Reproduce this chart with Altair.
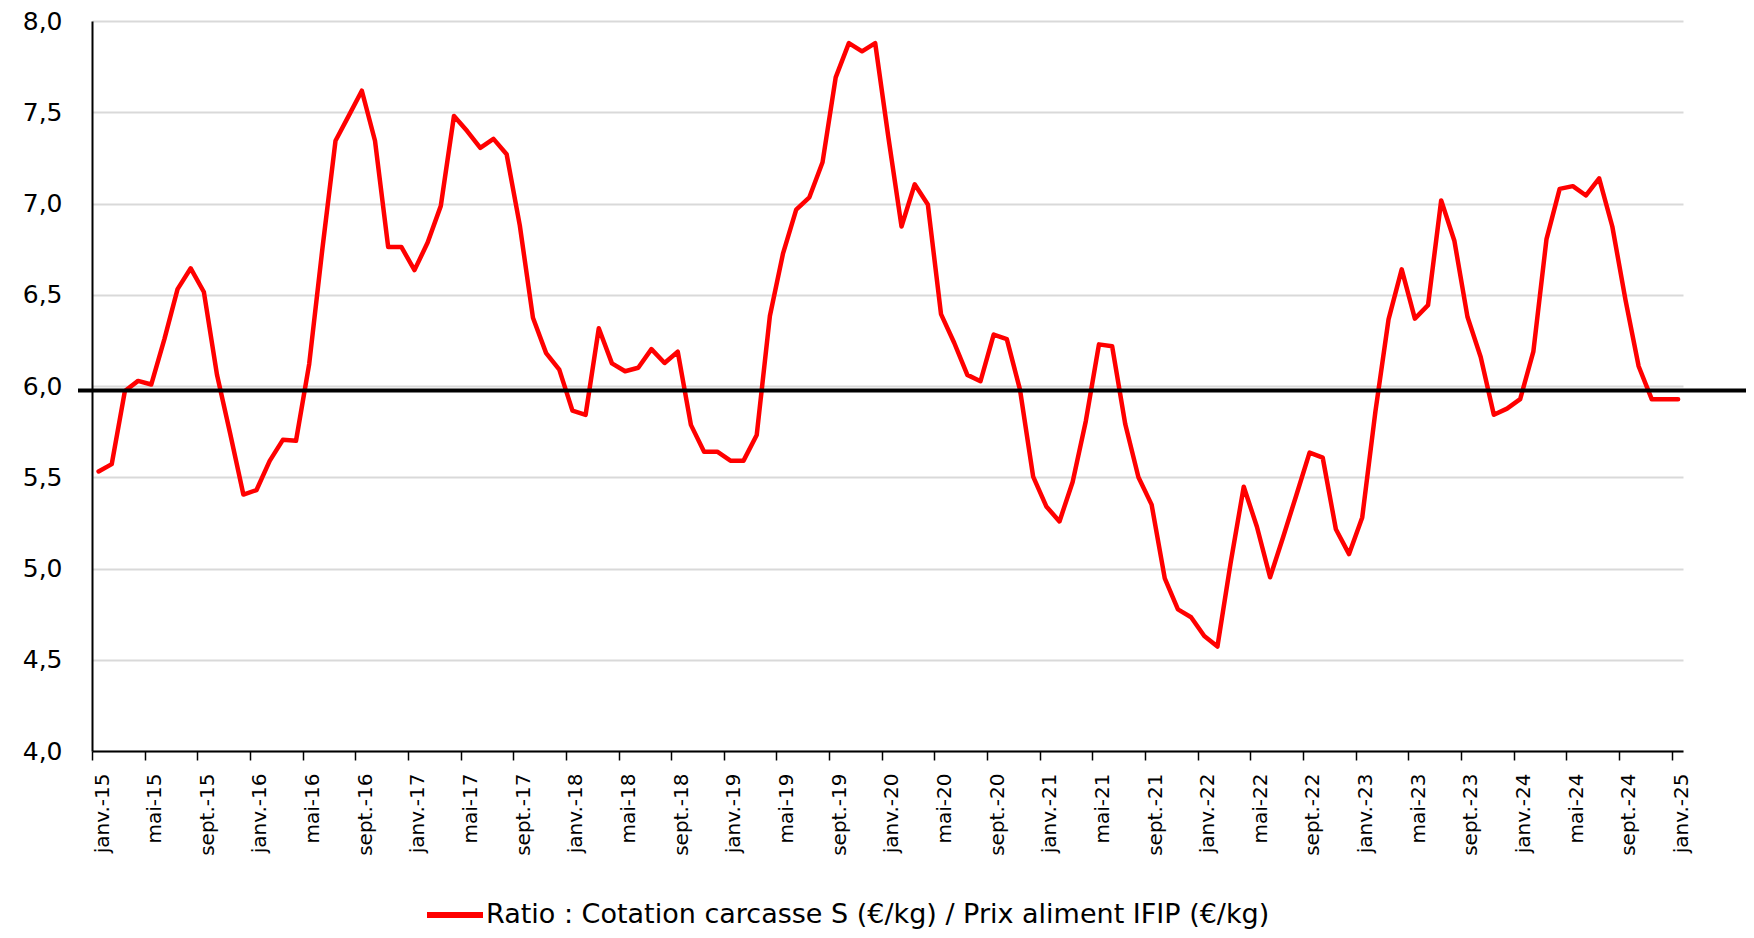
import altair as alt
import pandas as pd

# --- data ---
noms_mois = ["janv.", "févr.", "mars", "avr.", "mai", "juin",
             "juil.", "août", "sept.", "oct.", "nov.", "déc."]
mois = [f"{m}-{a:02d}" for a in range(15, 25) for m in noms_mois] + ["janv.-25"]

ratio = [
    5.532, 5.572, 5.973, 6.028, 6.008, 6.257, 6.531, 6.645, 6.515, 6.060, 5.738, 5.405,
    5.430, 5.590, 5.705, 5.700, 6.120, 6.750, 7.344, 7.480, 7.618, 7.344, 6.762, 6.762,
    6.635, 6.786, 6.987, 7.480, 7.397, 7.305, 7.354, 7.270, 6.880, 6.374, 6.180, 6.090,
    5.865, 5.842, 6.316, 6.124, 6.081, 6.100, 6.202, 6.126, 6.188, 5.787, 5.640, 5.640,
    5.591, 5.591, 5.732, 6.384, 6.727, 6.966, 7.034, 7.226, 7.691, 7.879, 7.834, 7.879,
    7.364, 6.874, 7.105, 6.995, 6.394, 6.237, 6.061, 6.026, 6.282, 6.257, 5.980, 5.503,
    5.340, 5.258, 5.474, 5.807, 6.228, 6.218, 5.790, 5.500, 5.350, 4.946, 4.776, 4.733,
    4.630, 4.572, 5.030, 5.448, 5.229, 4.952, 5.174, 5.403, 5.635, 5.607, 5.215, 5.079,
    5.280, 5.859, 6.365, 6.639, 6.369, 6.443, 7.017, 6.796, 6.378, 6.159, 5.842, 5.876,
    5.928, 6.188, 6.805, 7.080, 7.095, 7.044, 7.138, 6.874, 6.472, 6.108, 5.927, 5.927,
    5.927,
]

moyenne = 5.976

tick_labels = [f"{m}-{a:02d}" for a in range(15, 25) for m in ("janv.", "mai", "sept.")] + ["janv.-25"]
tick_values = list(range(0, 121, 4))
y_ticks = [4.0, 4.5, 5.0, 5.5, 6.0, 6.5, 7.0, 7.5, 8.0]

serie = "Ratio : Cotation carcasse S (€/kg) / Prix aliment IFIP (€/kg)"

df = pd.DataFrame({
    "mois": mois,
    "rang": [i + 0.5 for i in range(len(ratio))],
    "ratio": ratio,
    "serie": [serie] * len(ratio),
})
df_moy = pd.DataFrame({"ratio": [moyenne]})

FONT = "DejaVu Sans"
W, H = 1591, 730

label_array = "[" + ",".join(f"'{t}'" for t in tick_labels) + "]"

x_enc = alt.X(
    "rang:Q",
    scale=alt.Scale(domain=[0, 120.87], nice=False, zero=False),
    axis=alt.Axis(
        title=None,
        values=tick_values,
        labelExpr=f"{label_array}[round(datum.value / 4)]",
        labelAngle=270,
        labelAlign="right",
        labelBaseline="top",
        labelPadding=13,
        labelFontSize=20,
        labelFont=FONT,
        labelColor="black",
        labelFlush=False,
        labelOverlap=False,
        tickSize=9,
        tickColor="black",
        tickWidth=1.5,
        domainColor="black",
        domainWidth=2,
        grid=False,
    ),
)

y_enc = alt.Y(
    "ratio:Q",
    scale=alt.Scale(domain=[4, 8], nice=False, zero=False),
    axis=alt.Axis(
        title=None,
        values=y_ticks,
        labelExpr="replace(format(datum.value, '.1f'), '.', ',')",
        labelFontSize=25,
        labelFont=FONT,
        labelColor="black",
        labelPadding=30,
        labelFlush=False,
        ticks=False,
        domainColor="black",
        domainWidth=2,
        grid=True,
        gridColor="#d9d9d9",
        gridWidth=2,
    ),
)

ligne = alt.Chart(df).mark_line(strokeWidth=4.5, strokeJoin="round", strokeCap="round").encode(
    x=x_enc,
    y=y_enc,
    color=alt.Color(
        "serie:N",
        scale=alt.Scale(range=["#ff0000"]),
        legend=alt.Legend(
            title=None,
            orient="none",
            legendX=332,
            legendY=863,
            symbolType="stroke",
            symbolSize=3136,
            symbolStrokeWidth=6,
            symbolStrokeColor="#ff0000",
            labelFontSize=27,
            labelFont=FONT,
            labelColor="black",
            labelOffset=0,
            labelLimit=2000,
            padding=0,
        ),
    ),
)

regle = alt.Chart(df_moy).mark_rule(color="black", strokeWidth=4).encode(
    y=alt.Y("ratio:Q"),
    x=alt.value(-14),
    x2=alt.value(1662),
)

chart = alt.layer(ligne, regle).properties(
    width=W,
    height=H,
    autosize=alt.AutoSizeParams(type="none"),
    padding={"left": 84, "top": 13, "right": 63, "bottom": 179},
).configure(font=FONT).configure_view(stroke=None).configure_legend(
    symbolStrokeWidth=6
)

chart.save("out.html", embed_options={"renderer": "svg", "actions": False})
